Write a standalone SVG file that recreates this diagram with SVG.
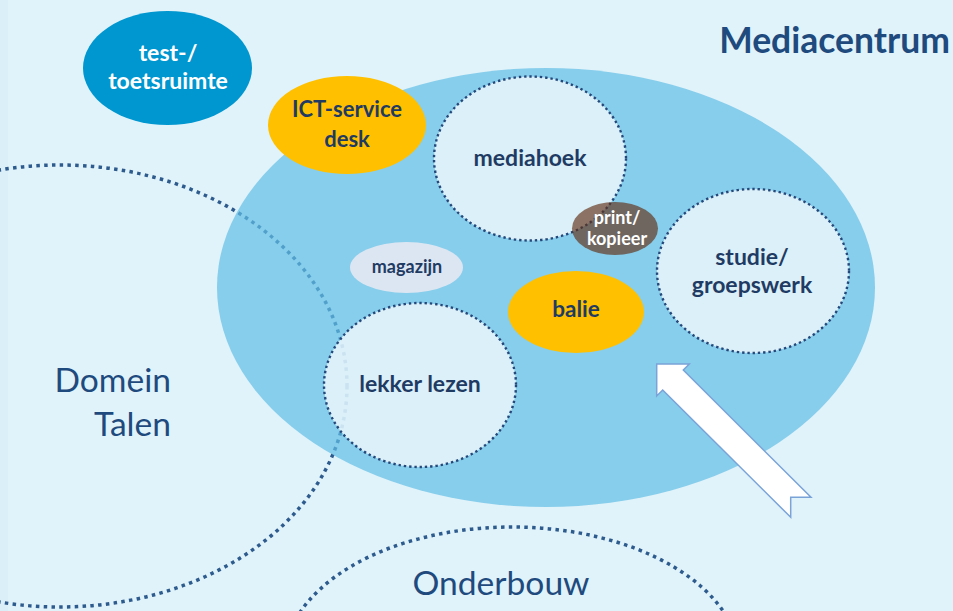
<svg xmlns="http://www.w3.org/2000/svg" width="953" height="611" viewBox="0 0 953 611">
<style>
.domain{fill:none;stroke:#2e5b8d;stroke-width:3.5;stroke-dasharray:3.5 4.3}
.room{fill:#ffffff;fill-opacity:0.7;stroke:#24487a;stroke-width:2.4;stroke-dasharray:2.4 2.9}
.lbl{font-family:Lato,"Open Sans","Liberation Sans",sans-serif;font-weight:bold;fill:#1f3b63;text-anchor:middle}
.wht{fill:#ffffff}
.big{font-family:Lato,"Open Sans","Liberation Sans",sans-serif;fill:#1f4a7e;font-size:33.6px}
</style>
<rect x="0" y="0" width="953" height="611" fill="#e0f3fa"/>
<rect x="0" y="0" width="8" height="611" fill="#dbeff8"/>
<g id="domein-talen">
<ellipse class="domain" cx="60" cy="386" rx="287" ry="221"/>
<text class="big" x="171" y="392" text-anchor="end">Domein</text>
<text class="big" x="171" y="436" text-anchor="end">Talen</text>
</g>
<g id="onderbouw">
<ellipse class="domain" cx="512" cy="662" rx="228" ry="135"/>
<text class="big" x="501" y="595" text-anchor="middle">Onderbouw</text>
</g>
<g id="mediacentrum">
<ellipse cx="546" cy="287.5" rx="329" ry="219.5" fill="#61bde5" fill-opacity="0.7"/>
<text class="big" x="950" y="53" text-anchor="end" font-weight="bold" style="font-size:35.5px">Mediacentrum</text>
</g>
<g id="test-toetsruimte">
<ellipse cx="167.5" cy="68" rx="84.5" ry="57" fill="#0096cf"/>
<text class="lbl wht" font-size="23" x="168" y="61">test-/</text>
<text class="lbl wht" font-size="23" x="168" y="89">toetsruimte</text>
</g>
<g id="ict-service-desk">
<ellipse cx="347" cy="125" rx="79" ry="49" fill="#ffc000"/>
<text class="lbl" font-size="22" x="347" y="117">ICT-service</text>
<text class="lbl" font-size="22" x="347" y="147">desk</text>
</g>
<g id="mediahoek">
<ellipse class="room" cx="530" cy="158.5" rx="96" ry="82"/>
<text class="lbl" font-size="23" x="530" y="166">mediahoek</text>
</g>
<g id="studie-groepswerk">
<ellipse class="room" cx="753" cy="271" rx="96" ry="82"/>
<text class="lbl" font-size="23" x="752" y="265">studie/</text>
<text class="lbl" font-size="23" x="752" y="293">groepswerk</text>
</g>
<g id="lekker-lezen">
<ellipse class="room" cx="420" cy="385" rx="96" ry="82"/>
<text class="lbl" font-size="23" x="420" y="392">lekker lezen</text>
</g>
<g id="magazijn">
<ellipse cx="406.5" cy="267.5" rx="56.5" ry="25.5" fill="#dce6f2"/>
<text class="lbl" font-size="18" x="407" y="273">magazijn</text>
</g>
<g id="balie">
<ellipse cx="576" cy="312" rx="68" ry="41" fill="#ffc000"/>
<text class="lbl" font-size="22.5" x="576" y="317">balie</text>
</g>
<g id="print-kopieer">
<ellipse cx="615" cy="228.5" rx="43" ry="26.5" fill="#612e14" fill-opacity="0.65"/>
<text class="lbl wht" font-size="18" x="617" y="224">print/</text>
<text class="lbl wht" font-size="18" x="617" y="245">kopieer</text>
</g>
<g id="connectors">
<polygon points="656.7,364 689.3,364 683.3,370 811,497.3 790.7,497.3 790.7,517.3 662.7,390 656.7,396" fill="#ffffff" stroke="#7aa3d8" stroke-width="1.5" stroke-linejoin="miter"/>
</g>
</svg>
